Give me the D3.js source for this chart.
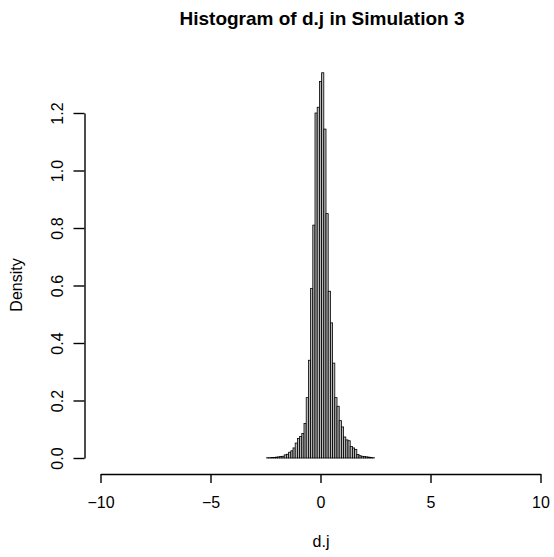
<!DOCTYPE html>
<html>
<head>
<meta charset="utf-8">
<script src="https://cdn.jsdelivr.net/npm/d3@7"></script>
<style>
  body { margin: 0; background: #fff; }
  text { font-family: "Liberation Sans", Arial, sans-serif; fill: #000; }
</style>
</head>
<body>
<div class="canvas"></div>
<script>
// histogram breaks (bin edges) and densities
const breaks = [
  -2.45, -2.35, -2.25, -2.15, -2.05, -1.95, -1.85, -1.75, -1.65, -1.55,
  -1.45, -1.35, -1.25, -1.15, -1.05, -0.95, -0.85, -0.75, -0.65, -0.55,
  -0.45, -0.35, -0.25, -0.15, -0.05, 0.05, 0.15, 0.25, 0.35, 0.45,
  0.55, 0.65, 0.75, 0.85, 0.95, 1.05, 1.15, 1.25, 1.35, 1.45,
  1.55, 1.65, 1.75, 1.85, 1.95, 2.05, 2.15, 2.25, 2.35, 2.45
];
const density = [
  0.001, 0.001, 0.002, 0.002, 0.003, 0.004, 0.005, 0.006, 0.011, 0.013,
  0.020, 0.025, 0.035, 0.052, 0.068, 0.075, 0.085, 0.120, 0.210, 0.340,
  0.590, 0.810, 1.200, 1.220, 1.310, 1.340, 1.144, 0.850, 0.580, 0.470,
  0.330, 0.210, 0.180, 0.130, 0.108, 0.073, 0.063, 0.060, 0.040, 0.035,
  0.030, 0.012, 0.008, 0.006, 0.005, 0.004, 0.003, 0.002, 0.001
];
const xTicks = [-10, -5, 0, 5, 10];
const yTicks = [0, 0.2, 0.4, 0.6, 0.8, 1.0, 1.2];

const bins = density.map((d, i) => ({x0: breaks[i], x1: breaks[i + 1], density: d}));

const svg = d3.select('.canvas')
  .append('svg')
  .attr('width', 554)
  .attr('height', 557);

const x = d3.scaleLinear()
  .domain([-10, 10])
  .range([100.5, 540.5]);
const y = d3.scaleLinear()
  .domain([0, 1.2])
  .range([458, 113]);

// bars
svg.append('g')
  .selectAll('rect')
  .data(bins)
  .enter()
  .append('rect')
    .attr('x', d => x(d.x0))
    .attr('width', d => x(d.x1) - x(d.x0))
    .attr('y', d => y(d.density))
    .attr('height', d => y(0) - y(d.density))
    .attr('fill', '#b8b8b8')
    .attr('stroke', '#000')
    .attr('stroke-width', 0.8);

// axes
const xAxisGroup = svg.append('g')
  .attr('transform', 'translate(0, 474)')
  .call(d3.axisBottom(x).tickValues(xTicks).tickSize(9).tickSizeOuter(0).tickPadding(14));

xAxisGroup.selectAll('text')
  .attr('font-size', '16px');

const yAxisGroup = svg.append('g')
  .attr('transform', 'translate(84.5, 0)')
  .call(d3.axisLeft(y).tickValues(yTicks).tickSize(11).tickSizeOuter(0).tickFormat(d3.format('.1f')));

yAxisGroup.selectAll('text')
  .attr('transform', 'rotate(-90)')
  .attr('x', 0)
  .attr('y', -22)
  .attr('dy', 0)
  .attr('text-anchor', 'middle')
  .attr('font-size', '16px');

svg.selectAll('.domain, .tick line')
  .attr('stroke', '#000')
  .attr('stroke-width', 1.4);

svg.selectAll('.tick text').attr('fill', '#000');
svg.selectAll('g').attr('font-family', null);

// title and labels
svg.append('text')
  .attr('x', 322)
  .attr('y', 25)
  .attr('text-anchor', 'middle')
  .attr('font-size', '19px')
  .attr('font-weight', 'bold')
  .text('Histogram of d.j in Simulation 3');

svg.append('text')
  .attr('x', 321)
  .attr('y', 547)
  .attr('text-anchor', 'middle')
  .attr('font-size', '16px')
  .text('d.j');

svg.append('text')
  .attr('transform', 'translate(22, 285) rotate(-90)')
  .attr('text-anchor', 'middle')
  .attr('font-size', '16px')
  .text('Density');
</script>
</body>
</html>
